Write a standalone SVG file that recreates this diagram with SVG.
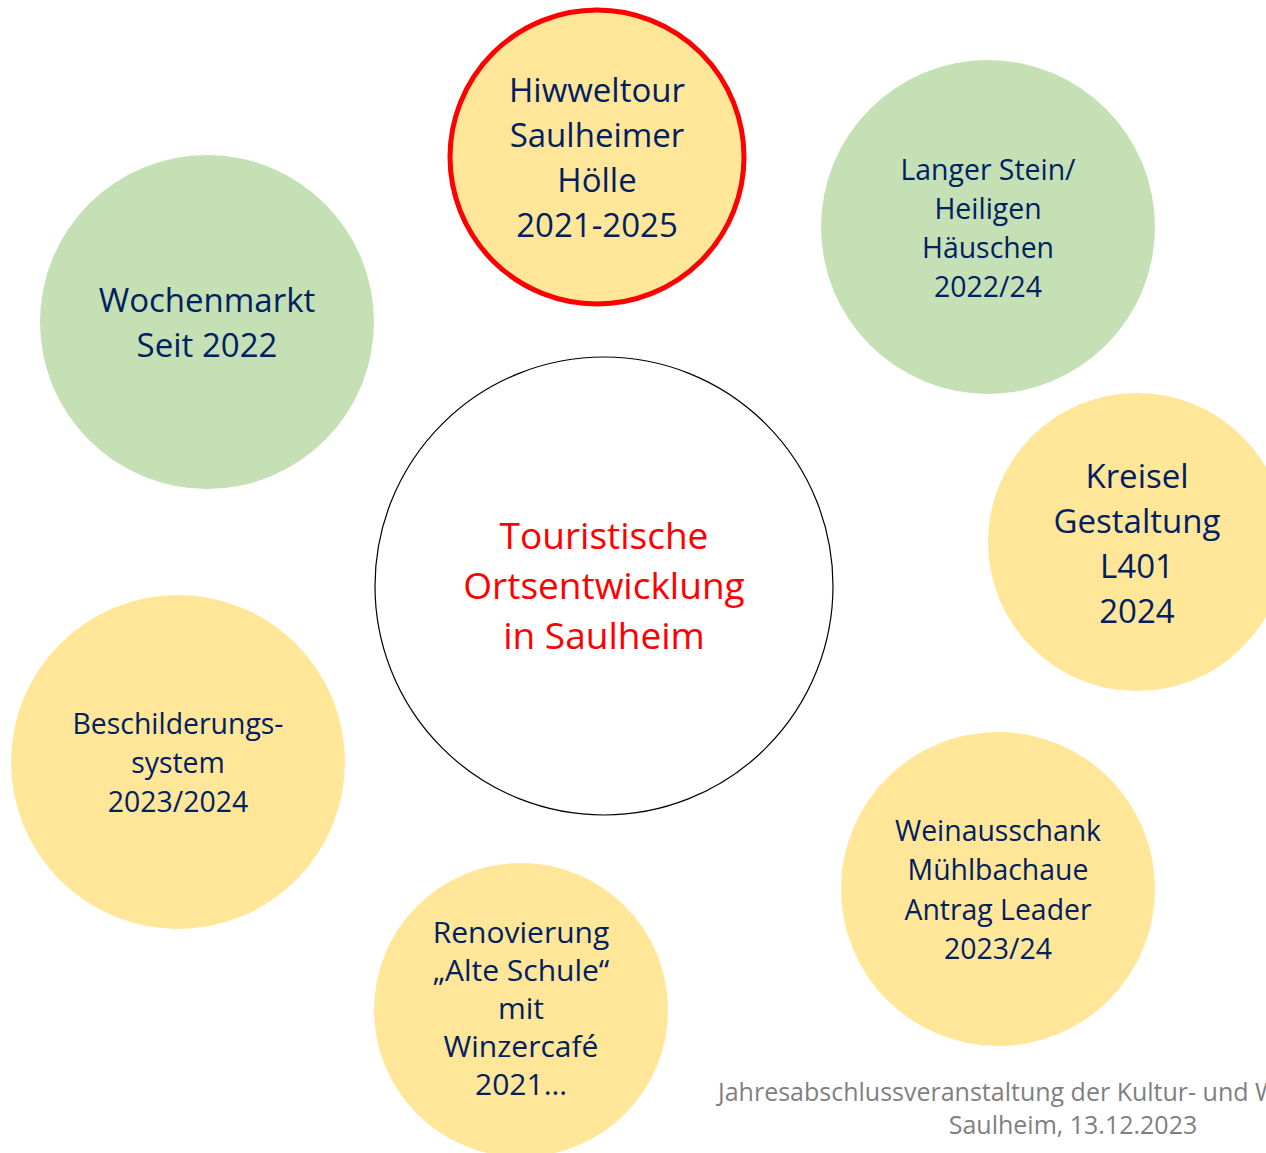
<svg xmlns="http://www.w3.org/2000/svg" width="1266" height="1153" viewBox="0 0 1266 1153">
<style>
text{font-family:"Open Sans","Noto Sans","Liberation Sans",sans-serif;text-anchor:middle;fill:#002060}
.y{fill:#FFE699}
.g{fill:#C5E0B4}
.l{font-size:33px}
.m{font-size:28.4px}
.r{font-size:30px}
.t{font-size:37px;fill:#FF0000}
.f{font-size:25px;fill:#7F7F7F}
</style>
<rect width="1266" height="1153" fill="#FFFFFF"/>
<g id="connectors"/>
<g id="center">
<circle cx="604" cy="586" r="229" fill="#FFFFFF" stroke="#000000" stroke-width="1.2"/>
<text class="t" x="604" y="549">Touristische</text>
<text class="t" x="604" y="599">Ortsentwicklung</text>
<text class="t" x="604" y="649">in Saulheim</text>
</g>
<g id="hiwweltour">
<circle class="y" cx="597" cy="157" r="147" stroke="#FF0000" stroke-width="5"/>
<text class="l" x="597" y="102">Hiwweltour</text>
<text class="l" x="597" y="147">Saulheimer</text>
<text class="l" x="597" y="192">Hölle</text>
<text class="l" x="597" y="237">2021-2025</text>
</g>
<g id="langer-stein">
<circle class="g" cx="988" cy="227" r="167"/>
<text class="m" x="988" y="180">Langer Stein/</text>
<text class="m" x="988" y="219">Heiligen</text>
<text class="m" x="988" y="258">Häuschen</text>
<text class="m" x="988" y="297">2022/24</text>
</g>
<g id="wochenmarkt">
<circle class="g" cx="207" cy="322" r="167"/>
<text class="l" x="207" y="312">Wochenmarkt</text>
<text class="l" x="207" y="357">Seit 2022</text>
</g>
<g id="kreisel">
<circle class="y" cx="1137" cy="542" r="149"/>
<text class="l" x="1137" y="488">Kreisel</text>
<text class="l" x="1137" y="533">Gestaltung</text>
<text class="l" x="1137" y="578">L401</text>
<text class="l" x="1137" y="623">2024</text>
</g>
<g id="beschilderung">
<circle class="y" cx="178" cy="762" r="167"/>
<text class="m" x="178" y="734">Beschilderungs-</text>
<text class="m" x="178" y="773">system</text>
<text class="m" x="178" y="812">2023/2024</text>
</g>
<g id="weinausschank">
<circle class="y" cx="998" cy="889" r="157"/>
<text class="m" x="998" y="841">Weinausschank</text>
<text class="m" x="998" y="880">Mühlbachaue</text>
<text class="m" x="998" y="920">Antrag Leader</text>
<text class="m" x="998" y="959">2023/24</text>
</g>
<g id="renovierung">
<circle class="y" cx="521" cy="1010" r="147"/>
<text class="r" x="521" y="943">Renovierung</text>
<text class="r" x="521" y="981">„Alte Schule“</text>
<text class="r" x="521" y="1019">mit</text>
<text class="r" x="521" y="1057">Winzercafé</text>
<text class="r" x="521" y="1095">2021…</text>
</g>
<g id="footer">
<text class="f" x="718" y="1101" style="text-anchor:start">Jahresabschlussveranstaltung der Kultur- und Weinbotschafter</text>
<text class="f" x="1073" y="1134">Saulheim, 13.12.2023</text>
</g>
</svg>
